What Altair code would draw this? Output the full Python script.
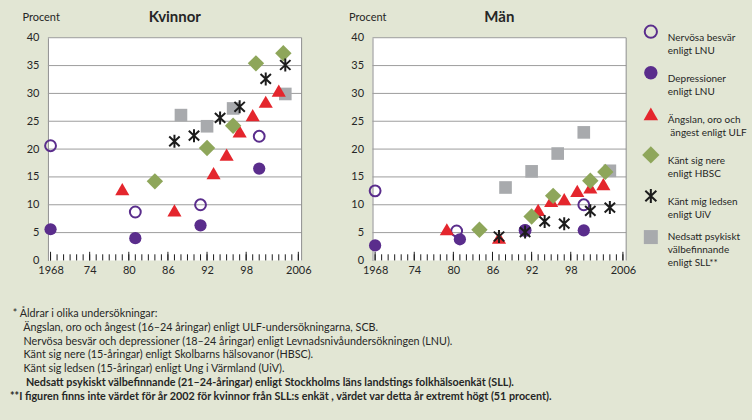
import altair as alt
import pandas as pd

FONT = "Lato"
BG = "#e2e6d4"
TXT = "#262626"
PURPLE = "#5a2d8c"
RED = "#e4262d"
GREEN = "#8ea65a"
GRAY = "#a8aaad"
BLACK = "#1c1c1c"
GRID = "#9d9d9d"
BORDER = "#8f8f8f"
ASTERISK = "M0,-1L0,1M-0.8,-0.75L0.8,0.75M-0.8,0.75L0.8,-0.75"

W, H = 254, 223

# ---------------- data: Kvinnor ----------------
k_nerv_year = [1968, 1981, 1991, 2000]
k_nerv_val = [20.6, 8.7, 10.0, 22.3]
k_dep_year = [1968, 1981, 1991, 2000]
k_dep_val = [5.6, 4.0, 6.3, 16.5]
k_ang_year = [1979, 1987, 1993, 1995, 1997, 1999, 2001, 2003]
k_ang_val = [12.8, 9.0, 15.7, 19.0, 23.2, 26.1, 28.5, 30.5]
k_hbsc_year = [1984, 1992, 1996, 1999.5, 2003.7]
k_hbsc_val = [14.2, 20.2, 24.2, 35.4, 37.2]
k_uiv_year = [1987, 1990, 1994, 1997, 2001, 2004]
k_uiv_val = [21.4, 22.4, 25.6, 27.6, 32.6, 35.1]
k_sll_year = [1988, 1992, 1996, 2004]
k_sll_val = [26.1, 24.1, 27.3, 29.9]

# ---------------- data: Män ----------------
m_nerv_year = [1968, 1980.5, 1991, 2000]
m_nerv_val = [12.5, 5.3, 5.4, 10.0]
m_dep_year = [1968, 1981, 1991, 2000]
m_dep_val = [2.7, 3.8, 5.4, 5.4]
m_ang_year = [1979, 1987, 1993, 1995, 1997, 1999, 2001, 2003]
m_ang_val = [5.6, 4.1, 9.1, 10.7, 11.0, 12.5, 13.1, 13.7]
m_hbsc_year = [1984, 1992, 1995.3, 2001, 2003.3]
m_hbsc_val = [5.5, 7.9, 11.6, 14.3, 15.9]
m_uiv_year = [1987, 1991, 1994, 1997, 2001, 2004]
m_uiv_val = [4.3, 5.1, 7.0, 6.6, 8.9, 9.5]
m_sll_year = [1988, 1992, 1996, 2000, 2004]
m_sll_val = [13.1, 16.0, 19.2, 23.0, 16.1]

# ---------------- axes ----------------
tick_years = [1968, 1974, 1980, 1986, 1992, 1998, 2006]
tick_labels = ["1968", "74", "80", "86", "92", "98", "2006"]
minor_years = list(range(1968, 2007))
y_values = [0, 5, 10, 15, 20, 25, 30, 35, 40]
grid_values = [5, 10, 15, 20, 25, 30, 35, 40]

legend_order = ["nerv", "dep", "ang", "hbsc", "uiv", "sll"]
legend_labels = [
    "Nervösa besvär\nenligt LNU",
    "Depressioner\nenligt LNU",
    "Ängslan, oro och\n\u200b\u00a0ängest enligt ULF",
    "Känt sig nere\nenligt HBSC",
    "Känt mig ledsen\nenligt UiV",
    "Nedsatt psykiskt\nvälbefinnande\nenligt SLL**",
]

IND = "\u200b\u2002\u2002\u00a0"
foot_normal = [
    "\u200b\u00a0* Åldrar i olika undersökningar:",
    IND + "Ängslan, oro och ångest (16–24 åringar) enligt ULF-undersökningarna, SCB.",
    IND + "Nervösa besvär och depressioner (18–24 åringar) enligt Levnadsnivåundersökningen (LNU).",
    IND + "Känt sig nere (15-åringar) enligt Skolbarns hälsovanor (HBSC).",
    IND + "Känt sig ledsen (15-åringar) enligt Ung i Värmland (UiV).",
]
foot_bold = [
    IND + "\u00a0Nedsatt psykiskt välbefinnande (21–24-åringar) enligt Stockholms läns landstings folkhälsoenkät (SLL).",
    "**I figuren finns inte värdet för år 2002 för kvinnor från SLL:s enkät , värdet var detta år extremt högt (51 procent).",
]

styles = {
    "sll": dict(shape="square", filled=True, color=GRAY, size=160),
    "nerv": dict(shape="circle", filled=False, color=PURPLE, size=118, strokeWidth=2),
    "dep": dict(shape="circle", filled=True, color=PURPLE, size=150),
    "ang": dict(shape="triangle-up", filled=True, color=RED, size=200),
    "hbsc": dict(shape="diamond", filled=True, color=GREEN, size=270),
    "uiv": dict(shape=ASTERISK, filled=False, color=BLACK, size=170, strokeWidth=2),
}
draw_order = ["sll", "nerv", "dep", "ang", "hbsc", "uiv"]

label_expr = "''"
for v, l in reversed(list(zip(tick_years, tick_labels))):
    label_expr = f"datum.value == {v} ? '{l}' : ({label_expr})"


def panel(name, series, title_x):
    x_enc = alt.X(
        "year:Q",
        scale=alt.Scale(domain=[1967.6, 2006.5], nice=False, zero=False),
        axis=alt.Axis(values=tick_years, labelExpr=label_expr, title=None, domain=False,
                      ticks=False, grid=False, labelFont=FONT, labelFontSize=11,
                      labelColor=TXT, labelPadding=4, labelFlush=False, labelOverlap=False),
    )
    y_enc = alt.Y(
        "value:Q",
        scale=alt.Scale(domain=[0, 40], nice=False),
        axis=alt.Axis(values=y_values, title="Procent", titleAngle=0, titleAlign="left",
                      titleBaseline="middle", titleX=title_x, titleY=-20.5, titleFont=FONT,
                      titleFontSize=11, titleFontWeight="normal", titleColor=TXT,
                      domain=True, domainColor=BORDER, domainWidth=1, ticks=False, grid=False,
                      labelFont=FONT, labelFontSize=11, labelColor=TXT, labelPadding=9,
                      labelFlush=False),
    )
    layers = []
    layers.append(alt.Chart(pd.DataFrame({"value": grid_values})).mark_rule(
        color=GRID, strokeWidth=1).encode(y=y_enc))
    layers.append(alt.Chart(pd.DataFrame({"a": [0]})).mark_rule(
        color=BORDER, strokeWidth=1).encode(x=alt.value(W), y=alt.value(0), y2=alt.value(H)))
    layers.append(alt.Chart(pd.DataFrame({"year": minor_years, "value": 0.0, "value2": 1.1}))
                  .mark_rule(color=BLACK, strokeWidth=1)
                  .encode(x=x_enc, y=y_enc, y2="value2:Q"))
    layers.append(alt.Chart(pd.DataFrame({"year": tick_years, "value": 0.0, "value2": 1.55}))
                  .mark_rule(color=BLACK, strokeWidth=1)
                  .encode(x=x_enc, y=y_enc, y2="value2:Q"))
    for key in draw_order:
        yrs, vals = series[key]
        st = styles[key]
        layers.append(alt.Chart(pd.DataFrame({"year": yrs, "value": vals}))
                      .mark_point(opacity=1, **st).encode(x=x_enc, y=y_enc))
    layers.append(alt.Chart(pd.DataFrame({"t": [name]})).mark_text(
        font=FONT, fontSize=15, fontWeight="bold", color=TXT, baseline="middle")
        .encode(text="t:N", x=alt.value(W / 2), y=alt.value(-20.5)))
    return alt.layer(*layers).properties(
        width=W, height=H, view=alt.ViewBackground(fill="white", stroke=None))


kv = panel("Kvinnor", {
    "nerv": (k_nerv_year, k_nerv_val), "dep": (k_dep_year, k_dep_val),
    "ang": (k_ang_year, k_ang_val), "hbsc": (k_hbsc_year, k_hbsc_val),
    "uiv": (k_uiv_year, k_uiv_val), "sll": (k_sll_year, k_sll_val)}, -26)
mn = panel("Män", {
    "nerv": (m_nerv_year, m_nerv_val), "dep": (m_dep_year, m_dep_val),
    "ang": (m_ang_year, m_ang_val), "hbsc": (m_hbsc_year, m_hbsc_val),
    "uiv": (m_uiv_year, m_uiv_val), "sll": (m_sll_year, m_sll_val)}, -24)

# ---------------- legend panel ----------------
SPACING = 71
leg_df = pd.DataFrame({"key": legend_order, "label": legend_labels})
LEG_H = 205.6
ly = alt.Y("key:N", scale=alt.Scale(domain=legend_order, padding=0), axis=None)
sym_x = 652 - (373.3 + W + SPACING)
txt_x = 669 - (373.3 + W + SPACING)
leg_layers = []
leg_sizes = {"sll": 196, "nerv": 150, "dep": 180, "ang": 210, "hbsc": 300, "uiv": 190}
for key in legend_order:
    st = dict(styles[key])
    st["size"] = leg_sizes[key]
    leg_layers.append(alt.Chart(leg_df).transform_filter(alt.datum.key == key)
                      .mark_point(opacity=1, yOffset=-6, **st)
                      .encode(x=alt.value(sym_x), y=ly))
leg_layers.append(alt.Chart(leg_df).transform_filter(alt.datum.key != "sll")
                  .mark_text(font=FONT, fontSize=10, color=TXT, align="left", baseline="middle",
                             lineBreak="\n", lineHeight=13, yOffset=0.5)
                  .encode(x=alt.value(txt_x), y=ly, text="label:N"))
leg_layers.append(alt.Chart(leg_df).transform_filter(alt.datum.key == "sll")
                  .mark_text(font=FONT, fontSize=10, color=TXT, align="left", baseline="middle",
                             lineBreak="\n", lineHeight=13, yOffset=-6)
                  .encode(x=alt.value(txt_x), y=ly, text="label:N"))
legend = alt.layer(*leg_layers).properties(
    width=10, height=LEG_H, view=alt.ViewBackground(fill=None, stroke=None))

chart = alt.hconcat(kv, mn, legend, spacing=SPACING, bounds="flush").properties(
    title=alt.TitleParams(
        text=foot_normal, subtitle=foot_bold, orient="bottom", anchor="start",
        frame="bounds", dx=-12, offset=33, font=FONT, fontSize=10.8, fontWeight="normal",
        color=TXT, lineHeight=13.7, subtitleFont=FONT, subtitleFontSize=10.8,
        subtitleFontWeight="bold", subtitleColor=TXT, subtitleLineHeight=13.7,
        subtitlePadding=3),
).configure(background=BG, padding={"left": 10, "top": 9.5, "right": 5, "bottom": 20}
).configure_view(stroke=None)

chart.save("out.html", embed_options={"renderer": "svg", "actions": False})
